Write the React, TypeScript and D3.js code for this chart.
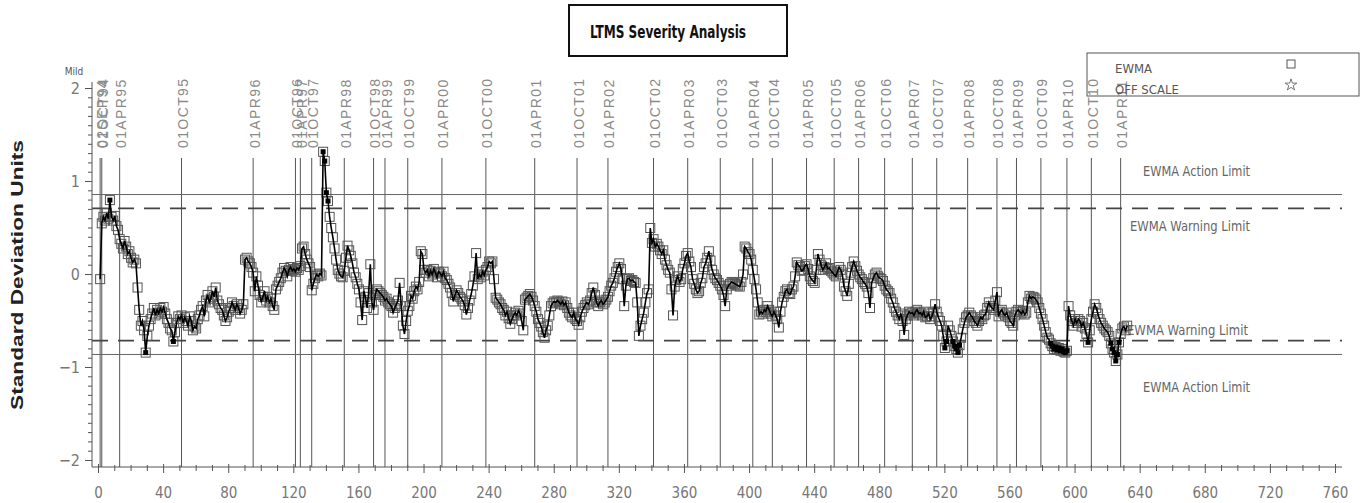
import React from 'react';
import * as d3 from 'd3';

// EWMA severity values, one per test in run order (test 1 .. 632)
const ewmaValues: number[] = [
  -0.05, 0.55, 0.62, 0.58, 0.66, 0.60, 0.80, 0.62, 0.58, 0.63,
  0.52, 0.48, 0.38, 0.33, 0.28, 0.36, 0.30, 0.22, 0.25, 0.18,
  0.13, 0.16, 0.12, -0.14, -0.38, -0.55, -0.50, -0.60, -0.84, -0.66,
  -0.55, -0.48, -0.42, -0.36, -0.44, -0.38, -0.42, -0.36, -0.40, -0.35,
  -0.42, -0.48, -0.52, -0.58, -0.60, -0.72, -0.62, -0.52, -0.45, -0.48,
  -0.44, -0.52, -0.46, -0.50, -0.55, -0.45, -0.50, -0.60, -0.56, -0.58,
  -0.48, -0.44, -0.38, -0.34, -0.45, -0.28, -0.22, -0.30, -0.26, -0.18,
  -0.24, -0.14, -0.28, -0.32, -0.36, -0.38, -0.44, -0.50, -0.46, -0.40,
  -0.36, -0.30, -0.34, -0.38, -0.32, -0.36, -0.42, -0.38, -0.32, 0.16,
  0.18, 0.14, 0.12, 0.08, 0.02, -0.18, -0.02, -0.12, -0.22, -0.30,
  -0.24, -0.18, -0.28, -0.24, -0.30, -0.26, -0.34, -0.38, -0.16, -0.12,
  -0.08, -0.04, 0.02, 0.07, 0.04, -0.02, 0.05, 0.08, 0.04, 0.06,
  0.03, 0.07, 0.05, 0.09, 0.28, 0.30, 0.22, 0.16, 0.12, 0.08,
  -0.17, -0.10, -0.04, 0.00, -0.02, 0.01, -0.01, 1.32, 1.22, 0.88,
  0.79, 0.62, 0.50, 0.40, 0.28, 0.16, 0.05, 0.01, -0.02, -0.03,
  0.04, 0.18, 0.31, 0.26, 0.20, 0.12, 0.02, -0.03, -0.10, -0.16,
  -0.30, -0.49, -0.18, -0.24, -0.36, -0.20, 0.11, -0.30, -0.38, -0.22,
  -0.16, -0.18, -0.20, -0.22, -0.24, -0.28, -0.26, -0.30, -0.32, -0.34,
  -0.41, -0.36, -0.32, -0.28, -0.09, -0.34, -0.55, -0.64, -0.50, -0.39,
  -0.34, -0.23, -0.26, -0.18, -0.13, -0.16, -0.08, 0.25, 0.22, 0.05,
  0.02, 0.05, -0.02, 0.04, 0.00, 0.06, 0.02, -0.03, 0.03, 0.01,
  -0.02, 0.03, -0.04, -0.06, -0.10, -0.14, -0.20, -0.29, -0.22, -0.17,
  -0.20, -0.24, -0.26, -0.29, -0.33, -0.43, -0.36, -0.28, -0.21, -0.12,
  -0.02, 0.23, -0.05, 0.00, -0.03, 0.03, -0.01, 0.05, 0.08, 0.14,
  0.12, 0.14, -0.05, -0.25, -0.27, -0.30, -0.32, -0.36, -0.38, -0.44,
  -0.40, -0.47, -0.53, -0.48, -0.44, -0.41, -0.44, -0.39, -0.42, -0.50,
  -0.60, -0.27, -0.25, -0.23, -0.21, -0.24, -0.28, -0.34, -0.40, -0.48,
  -0.52, -0.56, -0.62, -0.68, -0.60, -0.55, -0.44, -0.34, -0.31, -0.29,
  -0.30, -0.28, -0.30, -0.32, -0.29, -0.33, -0.30, -0.36, -0.41, -0.44,
  -0.46, -0.41, -0.48, -0.50, -0.54, -0.46, -0.40, -0.36, -0.33, -0.30,
  -0.32, -0.28, -0.20, -0.14, -0.22, -0.30, -0.34, -0.30, -0.28, -0.32,
  -0.30, -0.27, -0.24, -0.18, -0.12, -0.09, -0.04, 0.03, 0.08, 0.12,
  0.06, -0.05, -0.34, -0.12, -0.05, -0.04, -0.07, -0.06, -0.08, -0.09,
  -0.30, -0.66, -0.55, -0.48, -0.41, -0.30, -0.20, -0.16, 0.50, 0.34,
  0.38, 0.30, 0.33, 0.30, 0.26, 0.22, 0.26, 0.16, 0.10, 0.05,
  0.02, -0.16, -0.44, -0.13, -0.06, -0.02, -0.08, -0.05, 0.06, 0.12,
  0.20, 0.23, 0.14, 0.08, -0.05, -0.10, -0.16, -0.20, -0.18, -0.09,
  -0.04, 0.08, 0.12, 0.18, 0.25, 0.15, 0.05, 0.00, -0.04, -0.06,
  -0.09, -0.12, -0.16, -0.22, -0.34, -0.16, -0.12, -0.10, -0.08, -0.09,
  -0.10, -0.11, -0.12, -0.13, -0.08, 0.00, 0.30, 0.28, 0.24, 0.22,
  0.16, 0.05, -0.05, -0.16, -0.30, -0.43, -0.40, -0.42, -0.38, -0.40,
  -0.34, -0.38, -0.42, -0.45, -0.40, -0.44, -0.48, -0.57, -0.40, -0.30,
  -0.24, -0.18, -0.16, -0.20, -0.21, -0.16, -0.13, -0.02, 0.13, 0.10,
  0.08, 0.04, 0.05, 0.09, 0.11, 0.06, -0.02, -0.05, -0.07, -0.09,
  0.05, 0.22, 0.16, 0.10, 0.05, 0.08, 0.12, 0.06, 0.07, 0.04,
  0.02, 0.00, -0.02, 0.03, 0.08, 0.05, 0.00, -0.13, -0.18, -0.23,
  -0.10, 0.02, 0.08, 0.14, 0.09, 0.04, 0.00, -0.03, -0.05, -0.08,
  -0.10, -0.13, -0.20, -0.36, -0.09, -0.04, 0.00, 0.02, -0.02, -0.04,
  -0.05, -0.07, -0.12, -0.16, -0.18, -0.20, -0.26, -0.30, -0.36, -0.40,
  -0.44, -0.48, -0.42, -0.50, -0.65, -0.48, -0.44, -0.40, -0.42, -0.41,
  -0.44, -0.40, -0.38, -0.42, -0.41, -0.44, -0.40, -0.46, -0.45, -0.42,
  -0.48, -0.45, -0.40, -0.32, -0.40, -0.46, -0.50, -0.55, -0.66, -0.79,
  -0.72, -0.55, -0.60, -0.66, -0.72, -0.77, -0.80, -0.84, -0.76, -0.68,
  -0.59, -0.52, -0.46, -0.44, -0.41, -0.44, -0.46, -0.50, -0.52, -0.55,
  -0.50, -0.46, -0.48, -0.44, -0.43, -0.36, -0.30, -0.34, -0.36, -0.38,
  -0.28, -0.19, -0.45, -0.40, -0.38, -0.42, -0.44, -0.41, -0.46, -0.50,
  -0.52, -0.55, -0.44, -0.40, -0.38, -0.40, -0.42, -0.39, -0.43, -0.41,
  -0.30, -0.23, -0.26, -0.24, -0.25, -0.27, -0.30, -0.36, -0.42, -0.48,
  -0.55, -0.62, -0.68, -0.70, -0.74, -0.77, -0.80, -0.78, -0.81, -0.79,
  -0.82, -0.80, -0.83, -0.84, -0.82, -0.34, -0.44, -0.50, -0.55, -0.48,
  -0.52, -0.48, -0.50, -0.56, -0.52, -0.58, -0.64, -0.73, -0.60, -0.48,
  -0.40, -0.32, -0.36, -0.42, -0.48, -0.52, -0.55, -0.58, -0.60, -0.62,
  -0.66, -0.74, -0.80, -0.84, -0.93, -0.86, -0.73, -0.64, -0.58, -0.56,
  -0.60, -0.55,
];

// Calendar markers: label and the test number where each period starts
const dateLabels: string[] = [
  '02SEP94', '01OCT94', '01APR95', '01OCT95', '01APR96', '01OCT96', '01APR97',
  '01OCT97', '01APR98', '01OCT98', '01APR99', '01OCT99', '01APR00', '01OCT00',
  '01APR01', '01OCT01', '01APR02', '01OCT02', '01APR03', '01OCT03', '01APR04',
  '01OCT04', '01APR05', '01OCT05', '01APR06', '01OCT06', '01APR07', '01OCT07',
  '01APR08', '01OCT08', '01APR09', '01OCT09', '01APR10', '01OCT10', '01APR11',
];
const dateTests: number[] = [
  1, 2, 13, 51, 95, 121, 124, 131, 151, 169, 176, 190, 211, 238, 268, 294, 313,
  341, 362, 382, 402, 414, 435, 452, 467, 483, 500, 515, 534, 552, 564, 579, 595,
  610, 628,
];

const actionLimit = 0.86;
const warningLimit = 0.71;

const xTickValues: number[] = [0, 40, 80, 120, 160, 200, 240, 280, 320, 360, 400, 440, 480, 520, 560, 600, 640, 680, 720, 760];
const yTickValues: number[] = [-2, -1, 0, 1, 2];

const NARROW = "'Liberation Sans Narrow', 'Arial Narrow', 'DejaVu Sans Condensed', sans-serif";
const SANS = "'Liberation Sans', Arial, sans-serif";

export default function App() {
  const W = 1364;
  const H = 503;
  const x = d3.scaleLinear().domain([-4, 764]).range([92, 1342]);
  const y = d3.scaleLinear().domain([-2.07, 2.07]).range([467, 82]);
  const x0 = x.range()[0];
  const x1 = x.range()[1];
  const yBottom = y.range()[0];
  const yTop = y.range()[1];

  const points = ewmaValues.map((v, i) => ({ t: i + 1, v }));
  const line = d3.line<{ t: number; v: number }>().x((d) => x(d.t)).y((d) => y(d.v));

  const xMinor = d3.range(0, 761, 10);
  const yMinor = d3.range(-20, 21).map((k) => k / 10);

  const limitLines = [
    { v: actionLimit, dash: false },
    { v: warningLimit, dash: true },
    { v: -warningLimit, dash: true },
    { v: -actionLimit, dash: false },
  ];

  const limitLabels = [
    { text: 'EWMA Action Limit', v: actionLimit, dy: -19, x: 1143, len: 107 },
    { text: 'EWMA Warning Limit', v: warningLimit, dy: 23, x: 1130, len: 120 },
    { text: 'EWMA Warning Limit', v: -warningLimit, dy: -6, x: 1127, len: 121 },
    { text: 'EWMA Action Limit', v: -actionLimit, dy: 38, x: 1143, len: 107 },
  ];

  const starPath = d3.symbol().type(d3.symbolStar).size(42)() || '';

  return (
    <div style={{ position: 'absolute', left: 0, top: 0, background: '#fff' }}>
      <svg width={W} height={H} style={{ display: 'block', background: '#fff' }}>
        {/* title box */}
        <rect x={569} y={5} width={218} height={51} fill="none" stroke="#111" strokeWidth={2} />
        <text x={668} y={38} textAnchor="middle" fontFamily={NARROW} fontWeight="bold" fontSize={18}
          textLength={156} lengthAdjust="spacingAndGlyphs" fill="#111">LTMS Severity Analysis</text>

        {/* y axis title */}
        <text transform={`translate(23,275) rotate(-90)`} textAnchor="middle" fontFamily={SANS}
          fontWeight="bold" fontSize={17} textLength={270} lengthAdjust="spacingAndGlyphs" fill="#222">
          Standard Deviation Units
        </text>
        <text x={74} y={75} textAnchor="middle" fontFamily={NARROW} fontSize={10} fill="#555">Mild</text>

        {/* calendar marker lines and labels */}
        {dateTests.map((t, i) => (
          <g key={`d${i}`}>
            <line x1={x(t)} x2={x(t)} y1={158} y2={yBottom} stroke="#555" strokeWidth={1} />
            <text transform={`translate(${x(t) + 1.5},148) rotate(-90)`} dy="0.36em" textAnchor="start"
              fontFamily={SANS} fontSize={14} letterSpacing={1.4} fill="#8a8a8a">{dateLabels[i]}</text>
          </g>
        ))}

        {/* limit lines */}
        {limitLines.map((l, i) => (
          <line key={`l${i}`} x1={x0} x2={x1} y1={y(l.v)} y2={y(l.v)}
            stroke={l.dash ? '#444' : '#666'} strokeWidth={l.dash ? 1.8 : 1}
            strokeDasharray={l.dash ? '16,10' : undefined} />
        ))}
        {limitLabels.map((l, i) => (
          <text key={`ll${i}`} x={l.x} y={y(l.v) + l.dy} fontFamily={NARROW} fontSize={14}
            textLength={l.len} lengthAdjust="spacingAndGlyphs" fill="#666">{l.text}</text>
        ))}

        {/* axes */}
        <line x1={x0} x2={x0} y1={yTop} y2={yBottom} stroke="#555" strokeWidth={1} />
        <line x1={x0} x2={x1} y1={yBottom} y2={yBottom} stroke="#555" strokeWidth={1} />
        {yMinor.map((v, i) => {
          const major = Math.abs(v - Math.round(v)) < 1e-9;
          return (
            <line key={`ym${i}`} x1={x0 - (major ? 7 : 4)} x2={x0} y1={y(v)} y2={y(v)} stroke="#555" strokeWidth={1} />
          );
        })}
        {yTickValues.map((v) => (
          <text key={`yt${v}`} x={80} y={y(v)} dy="0.36em" textAnchor="end" fontFamily={NARROW}
            fontSize={16} fill="#777">{v < 0 ? `\u2212${Math.abs(v)}` : `${v}`}</text>
        ))}
        {xMinor.map((v) => {
          const major = v % 40 === 0;
          return (
            <line key={`xm${v}`} x1={x(v)} x2={x(v)} y1={yBottom - (major ? 3 : 2)} y2={yBottom + (major ? 6 : 4)}
              stroke="#555" strokeWidth={1} />
          );
        })}
        {xTickValues.map((v) => (
          <text key={`xt${v}`} x={x(v)} y={498} textAnchor="middle" fontFamily={NARROW} fontSize={15}
            fill="#777">{v}</text>
        ))}

        {/* EWMA markers, trace, and out-of-warning points */}
        <g>
          {points.map((p) => (
            <rect key={`s${p.t}`} x={x(p.t) - 4.5} y={y(p.v) - 4.5} width={9} height={9}
              fill="none" stroke="#555" strokeWidth={1} />
          ))}
        </g>
        <path d={line(points) || ''} fill="none" stroke="#000" strokeWidth={1.6} />
        <g>
          {points.filter((p) => Math.abs(p.v) > warningLimit).map((p) => (
            <rect key={`f${p.t}`} x={x(p.t) - 2.5} y={y(p.v) - 2.5} width={5} height={5} fill="#000" />
          ))}
        </g>

        {/* legend */}
        <rect x={1087} y={53} width={272} height={43} fill="none" stroke="#555" strokeWidth={1} />
        <text x={1115} y={73} fontFamily={NARROW} fontSize={13} fill="#555">EWMA</text>
        <text x={1115} y={94} fontFamily={NARROW} fontSize={13} fill="#555">OFF SCALE</text>
        <rect x={1287} y={60} width={8} height={8} fill="none" stroke="#555" strokeWidth={1} />
        <path d={starPath} transform="translate(1291,85)" fill="none" stroke="#555" strokeWidth={0.8} />
      </svg>
    </div>
  );
}
